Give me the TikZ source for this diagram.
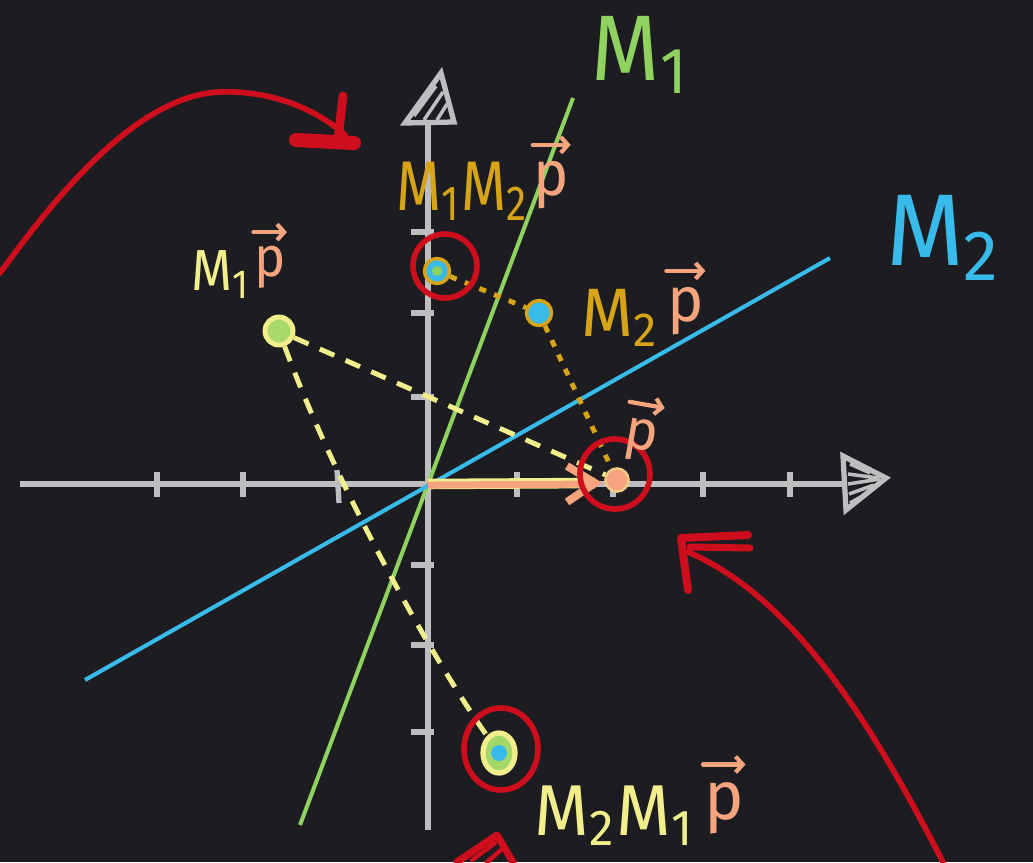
\documentclass[tikz,border=0pt]{standalone}
\usepackage{fontspec}
\setmainfont{Fira Sans}
\usetikzlibrary{shapes.geometric,calc,arrows.meta}
\definecolor{bgc}{RGB}{29,29,33}
\definecolor{axgray}{RGB}{190,190,192}
\definecolor{mgreen}{RGB}{143,210,96}
\definecolor{mblue}{RGB}{56,186,234}
\definecolor{redc}{RGB}{206,14,28}
\definecolor{gold}{RGB}{214,164,22}
\definecolor{lyel}{RGB}{242,238,140}
\definecolor{peach}{RGB}{245,164,126}
\pgfdeclarelayer{back}
\pgfdeclarelayer{mid}
\pgfsetlayers{back,mid,main}
\tikzset{
  axisline/.style={draw=axgray, line width=3.4pt},
  tickmark/.style={draw=axgray, line width=3pt},
  mirrorline/.style={line width=2.3pt},
  redline/.style={draw=redc, line width=3.2pt},
  golddash/.style={draw=gold, line width=2.8pt, dash pattern=on 4pt off 5pt},
  yeldash/.style={draw=lyel, line width=2.8pt, dash pattern=on 9pt off 7pt},
  dot/.style={circle, inner sep=0pt, line width=2pt},
  lbl/.style={inner sep=0pt, anchor=base west},
  plbl/.style={inner sep=0pt, text=peach, anchor=south west},
  vecline/.style={draw=peach, line width=2.4pt, -{Straight Barb[length=4pt,width=9pt,line width=2.4pt]}},
}
\newcommand\vecover[2][0.3]{\draw[vecline] ($(#2.north west)!-#1!(#2.south west)$) -- ($(#2.north east)!-#1!(#2.south east)$);}
\begin{document}
\begin{tikzpicture}[x=0.02cm, y=-0.02cm, line cap=round, line join=round]
\useasboundingbox (0,0) rectangle (1033,862);
\begin{pgfonlayer}{back}
\fill[bgc] (0,0) rectangle (1033,862);
% axes
\coordinate (O) at (428,484);
\coordinate (xl) at (20,484);
\coordinate (xr) at (845,484);
\coordinate (yb) at (428,830);
\coordinate (yt) at (428,125);
\draw[axisline] (xl) -- (xr);
\draw[axisline] (yb) -- (yt);
% x arrow head
\draw[axisline, line width=3pt] (843,456) -- (886,478) -- (846,510) -- cycle;
\draw[axgray, line width=2pt] (850,464) -- (870,473) (848,474) -- (878,478) (848,484) -- (880,479) (849,494) -- (874,485) (850,503) -- (866,494);
% y arrow head
\draw[axisline, line width=3pt] (405,123) -- (441,73) -- (454,122) -- cycle;
\draw[axgray, line width=2pt] (414,116) -- (436,86) (424,120) -- (443,92) (437,120) -- (447,104);
% ticks
\foreach \tx in {157,243,517,613,703,790} \draw[tickmark] (\tx,472) -- (\tx,497);
\draw[tickmark] (337,470) -- (339,503);
\foreach \ty in {232,313,397,565,645,732} \draw[tickmark] (411,\ty) -- (434,\ty);
% mirror lines
\coordinate (g1) at (300,825);
\coordinate (g2) at (573,98);
\draw[mirrorline, draw=mgreen] (g1) -- (g2);
\coordinate (b1) at (85,680);
\coordinate (b2) at (830,258);
\draw[mirrorline, draw=mblue] (b1) -- (b2);
\end{pgfonlayer}

% points
\node[dot, draw=gold, fill=mblue, minimum size=0.5cm] (m1m2p) at (437,271) {};
\fill[mgreen] (m1m2p.center) circle[radius=5];
\node[dot, draw=gold, fill=mblue, minimum size=0.5cm] (m2p) at (539,313) {};
\node[dot, draw=lyel, fill=mgreen!75!lyel, minimum size=0.56cm, line width=2.8pt] (m1p) at (279,331) {};
\node[ellipse, inner sep=0pt, draw=lyel, fill=mgreen!80!lyel, minimum width=0.64cm, minimum height=0.8cm, line width=3pt] (m2m1p) at (499,753) {};
\fill[mblue] (m2m1p.center) circle[radius=8];
\node[dot, draw=lyel!50!peach, fill=peach, minimum size=0.46cm, line width=1.5pt] (p) at (617,480) {};

% connectors
\begin{pgfonlayer}{mid}
\coordinate (tipP) at (595,483);
\draw[lyel, line width=6pt] (O) -- (tipP);
\draw[peach, line width=4pt] ([yshift=-0.6pt]O) -- ([yshift=-0.6pt]tipP);
\draw[peach, line width=4.5pt] (567,466) -- (tipP) -- (567,502);
\draw[golddash] (m1m2p) -- (m2p);
\draw[golddash] (m2p) -- (p);
\draw[yeldash] (m1p) -- (p);
\draw[yeldash] (m1p) .. controls (330,470) and (420,640) .. (m2m1p);
\end{pgfonlayer}

% red loops
\draw[redline] ([shift={(8,-5)}]m1m2p.center) circle[radius=32];
\draw[redline] ([shift={(-2,-6)}]p.center) circle[radius=35];
\draw[redline] ([shift={(2,-4)}]m2m1p.center) circle[x radius=37, y radius=41];

% red arrows
\coordinate (r1s) at (0,273);
\coordinate (r1m) at (220,92);
\coordinate (r1e) at (345,135);
\draw[redline] (r1s) .. controls (60,190) and (140,95) .. (r1m) .. controls (275,90) and (320,112) .. (r1e);
\draw[redc, line width=8pt] (296,140) -- (354,143);
\draw[redc, line width=5pt] (343,96) -- (338,140);

\coordinate (r2s) at (943,862);
\coordinate (r2e) at (688,552);
\draw[redline] (r2s) .. controls (880,740) and (800,600) .. (r2e);
\draw[redc, line width=4.5pt] (748,535) -- (681,538) -- (688,590);
\draw[redc, line width=4pt] (690,547) -- (750,548);

\draw[redc, line width=4pt] (457,862) -- (497,835) -- (513,862);
\draw[redc, line width=2.5pt] (472,860) -- (495,843) (487,862) -- (501,850);

% labels
\node[lbl, text=mgreen, xscale=5, yscale=5.3] (lm1) at (590,80) {$\mathrm{M}_{\mathrm{1}}$};
\node[lbl, text=mblue, xscale=5.7, yscale=5.8] (lm2) at (884,265) {$\mathrm{M}_{\mathrm{2}}$};

\node[lbl, text=gold, xscale=3.3, yscale=4] (l12) at (395,210) {$\mathrm{M}_{\mathrm{1}}\mathrm{M}_{\mathrm{2}}$};
\node[plbl, xscale=3.4, yscale=3.6] (l12p) at ([xshift=1]l12.base east) {p};
\vecover{l12p}

\node[lbl, text=lyel, xscale=3, yscale=3.3] (l1) at (190,290) {$\mathrm{M}_{\mathrm{1}}$};
\node[plbl, xscale=3, yscale=3.2] (l1p) at ([xshift=1]l1.base east) {p};
\vecover{l1p}

\node[lbl, text=gold, xscale=3.8, yscale=3.9] (l2) at (580,336) {$\mathrm{M}_{\mathrm{2}}$};
\node[plbl, xscale=3.5, yscale=3.6] (l2p) at ([xshift=3]l2.base east) {p};
\vecover{l2p}

\node[lbl, text=lyel, xscale=4, yscale=4.1] (l21) at (533,835) {$\mathrm{M}_{\mathrm{2}}\mathrm{M}_{\mathrm{1}}$};
\node[plbl, xscale=3.8, yscale=3.9] (l21p) at ([xshift=3]l21.base east) {p};
\vecover{l21p}

\node[inner sep=0pt, text=peach, scale=3.2, rotate=-10] (lp) at (641,440) {p};
\vecover{lp}
\end{tikzpicture}
\end{document}
